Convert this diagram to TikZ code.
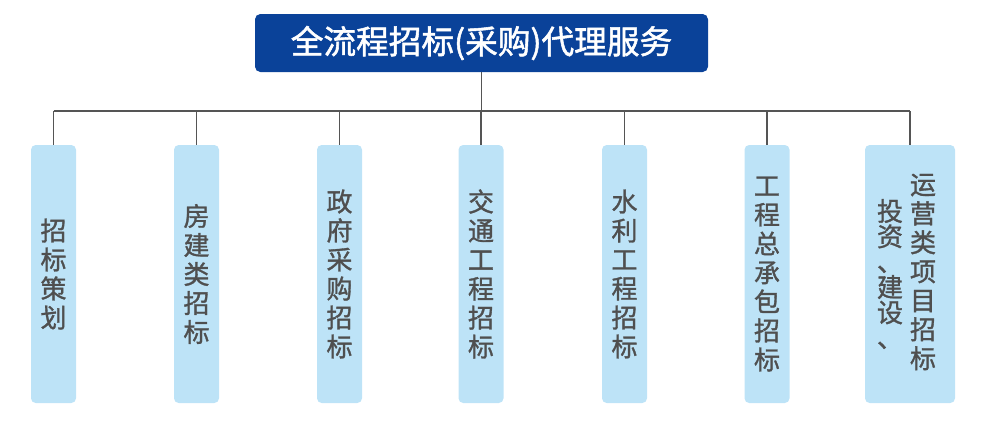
\documentclass[tikz,border=0pt]{standalone}
\usepackage{fontspec}
\setmainfont{Noto Sans CJK SC}
\newfontfamily\leaffont{Noto Sans CJK SC}[FakeBold=1.2]
\newfontfamily\headfont{Noto Sans CJK SC}[FakeBold=1.6]
\definecolor{titleblue}{HTML}{0A4299}
\definecolor{leafblue}{HTML}{BDE3F7}
\definecolor{textgray}{HTML}{4F4F4F}
\definecolor{linegray}{HTML}{555555}
\begin{document}
\begin{tikzpicture}[x=0.75pt,y=-0.75pt,
  titlebox/.style={fill=titleblue,rounded corners=4pt,minimum width=339.75pt,minimum height=43.5pt,inner sep=0pt,text=white,font=\headfont\fontsize{24.5}{28}\selectfont},
  leaf/.style={fill=leafblue,rounded corners=3.5pt,minimum width=33.75pt,minimum height=193.5pt,inner sep=0pt},
  wideleaf/.style={leaf,minimum width=67.5pt},
  vtext/.style={align=center,text=textgray,inner sep=0pt,font=\leaffont\fontsize{19.5}{21.75}\selectfont},
  conn/.style={draw=linegray,line width=1.1pt}]
\useasboundingbox (0,0) rectangle (1000,422);
\node[titlebox] (title) at (481.5,43) {全流程招标(采购)代理服务};
\node[leaf] (l1) at (53.5,274) {};
\node[leaf] (l2) at (196.5,274) {};
\node[leaf] (l3) at (339.5,274) {};
\node[leaf] (l4) at (481,274) {};
\node[leaf] (l5) at (624.5,274) {};
\node[leaf] (l6) at (767,274) {};
\node[wideleaf] (l7) at (910,274) {};
\node[vtext] (t1) at (l1) {招\\标\\策\\划};
\node[vtext] (t2) at (l2) {房\\建\\类\\招\\标};
\node[vtext] (t3) at (l3) {政\\府\\采\\购\\招\\标};
\node[vtext] (t4) at (l4) {交\\通\\工\\程\\招\\标};
\node[vtext] (t5) at (l5) {水\\利\\工\\程\\招\\标};
\node[vtext] (t6) at (l6) {工\\程\\总\\承\\包\\招\\标};
\node[vtext] (t7a) at (923,272) {运\\营\\类\\项\\目\\招\\标};
\node[vtext,font=\leaffont\fontsize{19.5}{19}\selectfont] (t7b) at (890,274) {投\\资\\、\\建\\设\\、};
\coordinate (busL) at (53.5,111);
\coordinate (busR) at (910,111);
\draw[conn] (title.south) -- (title.south |- busL);
\draw[conn] (busL) -- (busR);
\foreach \n in {l1,l2,l3,l4,l5,l6,l7}{
  \draw[conn] (\n.north) -- (\n.north |- busL);
}
\end{tikzpicture}
\end{document}
